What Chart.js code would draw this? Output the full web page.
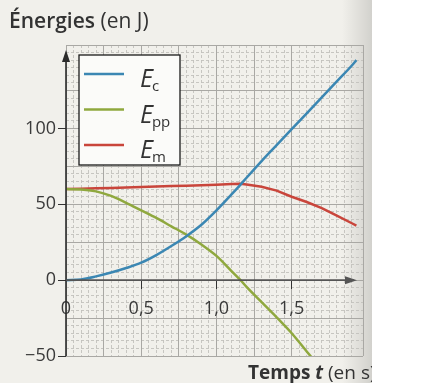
<!DOCTYPE html>
<html>
<head>
<meta charset="utf-8">
<script src="https://cdn.jsdelivr.net/npm/chart.js@4"></script>
<style>
html, body { margin: 0; padding: 0; background: #fff; }
#wrap { position: relative; width: 372px; height: 383px; }
</style>
</head>
<body>
<div id="wrap"><canvas id="energyChart"></canvas></div>
<script>
// data (t in s, energies in J)
var times = [0, 0.1, 0.2, 0.3, 0.4, 0.5, 0.6, 0.7, 0.8, 0.9, 1.0, 1.1, 1.16, 1.2, 1.3, 1.4, 1.5, 1.6, 1.7, 1.8, 1.9, 1.93];
var ecValues = [0, 0.5, 2.5, 5, 8, 11.5, 16.5, 22.5, 29, 36.5, 46, 56.5, 63, 67.5, 78.5, 89, 99.5, 110, 120.5, 131, 141.5, 145];
var eppValues = [60, 59.8, 58.5, 55.5, 51, 46, 41, 35.5, 30, 23.5, 16, 6, 0, -4.5, -14.5, -24.5, -35, -47, -59, null, null, null];
var emValues = [60, 60.2, 60.5, 60.8, 61.1, 61.4, 61.7, 62, 62.3, 62.6, 62.9, 63.3, 63.6, 63, 61.5, 59, 55, 51.5, 47.5, 42.5, 37.5, 36];

var seriesSubs = ['c', 'pp', 'm'];
var seriesColors = ['#3b87b3', '#8fa83e', '#c9453b'];
var xLabelTicks = [0, 0.5, 1.0, 1.5];
var yLabelTicks = [-50, 0, 50, 100];

var tMax = 1.974;
var eMin = -50, eMax = 155;

function toPoints(values) {
  var pts = [];
  for (var i = 0; i < times.length; i++) {
    if (values[i] !== null) pts.push({x: times[i], y: values[i]});
  }
  return pts;
}

function near(v, list) {
  for (var i = 0; i < list.length; i++) {
    if (Math.abs(v - list[i]) < 1e-6) return true;
  }
  return false;
}

Chart.defaults.font.family = "'Open Sans', sans-serif";
Chart.defaults.color = '#3a3a3a';

var paperPlugin = {
  id: 'paper',
  beforeDraw: function (chart) {
    var ctx = chart.ctx;
    ctx.save();
    ctx.fillStyle = '#f1f0eb';
    ctx.fillRect(0, 0, chart.width, chart.height);
    var g = ctx.createLinearGradient(chart.width - 30, 0, chart.width, 0);
    g.addColorStop(0, 'rgba(0,0,0,0)');
    g.addColorStop(1, 'rgba(0,0,0,0.13)');
    ctx.fillStyle = g;
    ctx.fillRect(chart.width - 30, 0, 30, chart.height);
    ctx.restore();
  }
};

var legendBoxPlugin = {
  id: 'legendBox',
  afterDatasetsDraw: function (chart) {
    var ctx = chart.ctx;
    var ca = chart.chartArea;
    var left = ca.left + 13, top = ca.top + 10, w = 101, h = 110;
    ctx.save();
    ctx.fillStyle = '#fbfbf9';
    ctx.fillRect(left, top, w, h);
    ctx.strokeStyle = '#1a1a1a';
    ctx.lineWidth = 1.3;
    ctx.strokeRect(left, top, w, h);
    chart.data.datasets.forEach(function (ds, i) {
      var y = top + 19 + i * 35.5;
      ctx.strokeStyle = ds.borderColor;
      ctx.lineWidth = 2.5;
      ctx.beginPath();
      ctx.moveTo(left + 5, y);
      ctx.lineTo(left + 45, y);
      ctx.stroke();
      ctx.fillStyle = '#333';
      ctx.font = "italic 25px 'Open Sans'";
      ctx.textBaseline = 'alphabetic';
      ctx.fillText('E', left + 61, y + 13);
      var ew = ctx.measureText('E').width;
      ctx.font = "15px 'Open Sans'";
      ctx.fillText(seriesSubs[i], left + 61 + ew - 1, y + 17);
    });
    ctx.restore();
  }
};

var axesTextPlugin = {
  id: 'axesText',
  afterDraw: function (chart) {
    var ctx = chart.ctx;
    var ca = chart.chartArea;
    var x0 = chart.scales.x.getPixelForValue(0);
    var y0 = chart.scales.y.getPixelForValue(0);
    ctx.save();
    ctx.strokeStyle = '#2b2b2b';
    ctx.fillStyle = '#2b2b2b';
    ctx.lineWidth = 1.6;
    // y axis with arrow
    ctx.beginPath();
    ctx.moveTo(x0, ca.bottom);
    ctx.lineTo(x0, ca.top + 8);
    ctx.stroke();
    ctx.beginPath();
    ctx.moveTo(x0, ca.top + 5);
    ctx.lineTo(x0 - 4, ca.top + 17);
    ctx.lineTo(x0 + 4, ca.top + 17);
    ctx.closePath();
    ctx.fill();
    // x axis with arrow
    var xr = ca.right - 6;
    ctx.strokeStyle = '#555';
    ctx.fillStyle = '#555';
    ctx.beginPath();
    ctx.moveTo(x0, y0);
    ctx.lineTo(xr - 3, y0);
    ctx.stroke();
    ctx.beginPath();
    ctx.moveTo(xr, y0);
    ctx.lineTo(xr - 12, y0 - 4);
    ctx.lineTo(xr - 12, y0 + 4);
    ctx.closePath();
    ctx.fill();

    // titles
    ctx.fillStyle = '#333';
    ctx.textBaseline = 'alphabetic';
    ctx.font = "600 21px 'Open Sans'";
    ctx.fillText('Énergies', 9, 28);
    var w1 = ctx.measureText('Énergies ').width;
    ctx.font = "21px 'Open Sans'";
    ctx.fillText('(en J)', 9 + w1, 28);

    var bx = 248, by = 379;
    ctx.font = "bold 19px 'Open Sans'";
    ctx.fillText('Temps', bx, by);
    bx += ctx.measureText('Temps ').width;
    ctx.font = "italic bold 19px 'Open Sans'";
    ctx.fillText('t', bx, by);
    bx += ctx.measureText('t ').width;
    ctx.font = "19px 'Open Sans'";
    ctx.fillText('(en s)', bx, by);
    ctx.restore();
  }
};

var ctx = document.getElementById('energyChart').getContext('2d');
var energyChart = new Chart(ctx, {
  type: 'line',
  data: {
    datasets: [{
      label: 'Ec',
      data: toPoints(ecValues),
      borderColor: seriesColors[0],
      cubicInterpolationMode: 'monotone'
    }, {
      label: 'Epp',
      data: toPoints(eppValues),
      borderColor: seriesColors[1],
      cubicInterpolationMode: 'monotone'
    }, {
      label: 'Em',
      data: toPoints(emValues),
      borderColor: seriesColors[2],
      tension: 0
    }]
  },
  options: {
    responsive: true,
    maintainAspectRatio: false,
    animation: false,
    layout: {padding: {top: 45, bottom: 27, left: 0, right: 0}},
    elements: {
      line: {borderWidth: 2.5, fill: false},
      point: {radius: 0, hoverRadius: 0}
    },
    datasets: {line: {clip: 0}},
    plugins: {legend: {display: false}, tooltip: {enabled: false}},
    scales: {
      xm: {
        type: 'linear', position: 'bottom', min: 0, max: tMax, z: -2,
        ticks: {display: false, stepSize: 0.05},
        grid: {color: '#c2c1bc', lineWidth: 0.9, drawTicks: false},
        border: {display: false, dash: [3, 2]},
        afterFit: function (s) { s.height = 0; }
      },
      ym: {
        type: 'linear', position: 'left', min: eMin, max: eMax, z: -2,
        ticks: {display: false, stepSize: 5},
        grid: {color: '#c2c1bc', lineWidth: 0.9, drawTicks: false},
        border: {display: false, dash: [3, 2]},
        afterFit: function (s) { s.width = 0; }
      },
      x: {
        type: 'linear', position: {y: 0}, min: 0, max: tMax, z: -1,
        ticks: {
          stepSize: 0.25, autoSkip: false, maxRotation: 0, padding: 9,
          font: {size: 18},
          callback: function (v) {
            if (!near(v, xLabelTicks)) return '';
            return v === 0 ? '0' : v.toFixed(1).replace('.', ',');
          }
        },
        grid: {
          color: '#a9a8a4', lineWidth: 1, tickLength: 9,
          tickColor: function (c) { return c.tick && near(c.tick.value, xLabelTicks) && c.tick.value !== 0 ? '#333' : 'rgba(0,0,0,0)'; }
        },
        border: {display: false}
      },
      y: {
        type: 'linear', position: 'left', min: eMin, max: eMax, z: -1,
        ticks: {
          stepSize: 25, autoSkip: false, padding: 2,
          font: {size: 18},
          callback: function (v) {
            if (!near(v, yLabelTicks)) return '';
            return v < 0 ? '\u2212' + Math.abs(v) : String(v);
          }
        },
        grid: {
          color: '#a9a8a4', lineWidth: 1, tickLength: 8,
          tickColor: function (c) { return c.tick && near(c.tick.value, yLabelTicks) ? '#333' : 'rgba(0,0,0,0)'; }
        },
        border: {display: false},
        afterFit: function (s) { s.width = 66; }
      }
    }
  },
  plugins: [paperPlugin, legendBoxPlugin, axesTextPlugin]
});
</script>
</body>
</html>
